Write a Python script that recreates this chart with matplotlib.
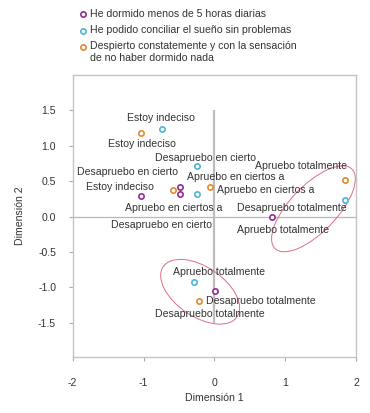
import matplotlib

matplotlib.use("Agg")

import matplotlib.pyplot as plt
from matplotlib.lines import Line2D
from matplotlib.patches import Ellipse

# groups (series)
groups = [
    "He dormido menos de 5 horas diarias",
    "He podido conciliar el sueño sin problemas",
    "Despierto constatemente y con la sensación\nde no haber dormido nada",
]
colors = ["#8e2c90", "#4cb6d4", "#e5892c"]

categories = [
    "Apruebo totalmente",
    "Apruebo en ciertos a",
    "Estoy indeciso",
    "Desapruebo en cierto",
    "Desapruebo totalmente",
]

# dimension 1 / dimension 2 per group, in category order
dim1 = [
    [0.81, -0.49, -1.04, -0.49, 0.01],
    [-0.28, -0.25, -0.74, -0.25, 1.84],
    [1.84, -0.06, -1.04, -0.58, -0.22],
]
dim2 = [
    [-0.01, 0.42, 0.29, 0.32, -1.05],
    [-0.92, 0.32, 1.24, 0.71, 0.23],
    [0.51, 0.42, 1.18, 0.38, -1.19],
]

# where each label sits (repelled text positions)
label_x = [
    [0.97, 0.30, -1.34, -0.75, -0.07],
    [0.06, -0.58, -0.76, -0.12, 1.09],
    [1.23, 0.72, -1.02, -1.23, 0.65],
]
label_y = [
    [-0.19, 0.56, 0.42, -0.12, -1.38],
    [-0.78, 0.12, 1.39, 0.82, 0.12],
    [0.71, 0.37, 1.03, 0.63, -1.19],
]

x_ticks = [-2, -1, 0, 1, 2]
y_ticks = [-1.5, -1.0, -0.5, 0.0, 0.5, 1.0, 1.5]

# confidence ellipses: center x, center y, width, height, angle
ellipses = [
    (1.40, 0.11, 1.56, 0.66, 46),
    (-0.20, -1.06, 1.26, 0.70, -34),
]

plt.rcParams.update(
    {
        "font.family": ["Liberation Sans", "DejaVu Sans"],
        "font.size": 7.6,
        "axes.unicode_minus": False,
        "text.color": "#333333",
        "axes.labelcolor": "#333333",
        "xtick.color": "#aaaaaa",
        "ytick.color": "#aaaaaa",
        "xtick.labelcolor": "#333333",
        "ytick.labelcolor": "#333333",
    }
)

fig = plt.figure(figsize=(3.7, 4.13), dpi=100)
ax = fig.add_axes([0.1965, 0.1356, 0.7655, 0.6834])

for side in ("left", "right", "top", "bottom"):
    ax.spines[side].set_color("#c4c4c4")
    ax.spines[side].set_linewidth(1.0)

ax.set_xlim(-2, 2)
ax.set_ylim(-1.98, 2.0)
ax.set_xticks(x_ticks)
ax.set_xticklabels([str(t) for t in x_ticks])
ax.set_yticks(y_ticks)
ax.set_yticklabels([f"{t:.1f}" for t in y_ticks])
ax.tick_params(axis="x", length=3, width=0.8, pad=12, labelsize=7.6)
ax.tick_params(axis="y", length=3, width=0.8, pad=9, labelsize=7.6)

ax.hlines(0, -2, 2, color="#b8b8b8", linewidth=0.9, zorder=1)
ax.vlines(0, -1.5, 1.5, color="#bdbdbd", linewidth=1.6, zorder=1)

for cx, cy, w, h, ang in ellipses:
    ax.add_patch(
        Ellipse((cx, cy), w, h, angle=ang, fill=False, edgecolor="#dc6f80", linewidth=0.7, zorder=2)
    )

for gi in range(len(groups)):
    ax.plot(
        dim1[gi], dim2[gi], linestyle="none", marker="o", markersize=3.8,
        markerfacecolor="white", markeredgecolor=colors[gi], markeredgewidth=1.2, zorder=3,
    )
    for ci, cat in enumerate(categories):
        ax.text(label_x[gi][ci], label_y[gi][ci], cat, ha="center", va="center",
                fontsize=7.6, color="#333333", zorder=4)

ax.set_xlabel("Dimensión 1")
ax.set_ylabel("Dimensión 2")
ax.xaxis.set_label_coords(0.5, -0.127)
ax.yaxis.set_label_coords(-0.17, 0.5)

# legend drawn at the top of the figure
legend_y = [1 - 14.3 / 413, 1 - 30.5 / 413, 1 - 46.5 / 413]
for gi, name in enumerate(groups):
    fig.add_artist(
        Line2D([82.7 / 370], [legend_y[gi]], transform=fig.transFigure, linestyle="none",
               marker="o", markersize=3.8, markerfacecolor="white",
               markeredgecolor=colors[gi], markeredgewidth=1.2)
    )
    fig.text(90 / 370, legend_y[gi] + 5.5 / 413, name, ha="left", va="top",
             fontsize=7.6, linespacing=1.3)

fig.savefig("out.png", dpi=100)
